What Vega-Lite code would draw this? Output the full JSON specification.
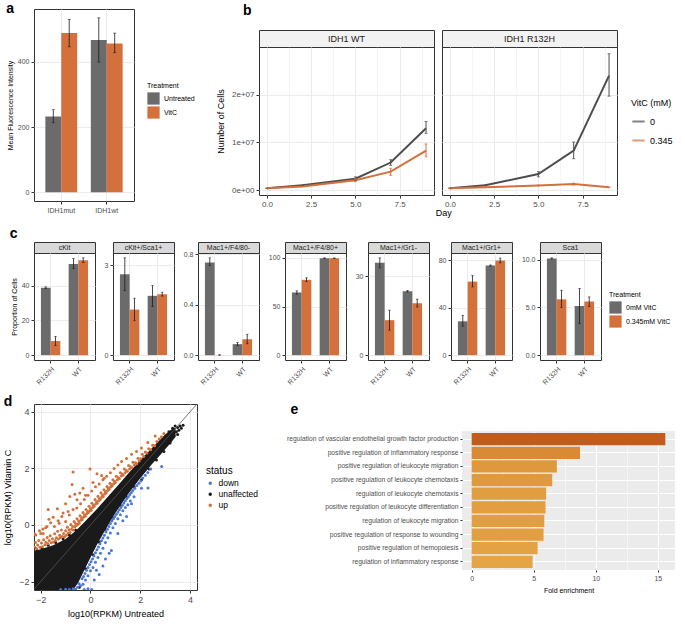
{
"$schema": "https://vega.github.io/schema/vega-lite/v6.json",
"background": "white",
"padding": {"left": 3, "top": 1, "right": 0, "bottom": 0},
"config": {
  "font": "Liberation Sans",
  "view": {"stroke": "#333333", "strokeWidth": 1},
  "axis": {"domain": false, "gridColor": "#ebebeb", "gridWidth": 1, "tickColor": "#333333", "tickSize": 3, "labelColor": "#4d4d4d", "labelFontSize": 7, "titleFontSize": 7, "titleFontWeight": "normal", "titleColor": "#000000", "labelPadding": 2, "titlePadding": 4, "labelFlush": false},
  "legend": {"titleFontWeight": "normal", "titleFontSize": 7, "labelFontSize": 7, "labelColor": "#000000", "titleColor": "#000000"},
  "title": {"fontSize": 14, "fontWeight": "bold", "anchor": "start", "frame": "bounds", "color": "#000000"}
},
"datasets": {
  "c": [
    {"p":"cKit","g":"R132H","t":"0mM VitC","v":38.8,"lo":38.3,"hi":39.3},
    {"p":"cKit","g":"R132H","t":"0.345mM VitC","v":8.1,"lo":5.5,"hi":10.8},
    {"p":"cKit","g":"WT","t":"0mM VitC","v":52.5,"lo":49.8,"hi":55.6},
    {"p":"cKit","g":"WT","t":"0.345mM VitC","v":54.6,"lo":53.3,"hi":56},
    {"p":"cKit+/Sca1+","g":"R132H","t":"0mM VitC","v":2.7,"lo":2.15,"hi":3.25},
    {"p":"cKit+/Sca1+","g":"R132H","t":"0.345mM VitC","v":1.52,"lo":1.15,"hi":1.9},
    {"p":"cKit+/Sca1+","g":"WT","t":"0mM VitC","v":1.98,"lo":1.62,"hi":2.32},
    {"p":"cKit+/Sca1+","g":"WT","t":"0.345mM VitC","v":2.03,"lo":1.97,"hi":2.1},
    {"p":"Mac1+/F4/80-","g":"R132H","t":"0mM VitC","v":0.734,"lo":0.71,"hi":0.77},
    {"p":"Mac1+/F4/80-","g":"R132H","t":"0.345mM VitC","v":0.001,"lo":0,"hi":0.003},
    {"p":"Mac1+/F4/80-","g":"WT","t":"0mM VitC","v":0.087,"lo":0.075,"hi":0.1},
    {"p":"Mac1+/F4/80-","g":"WT","t":"0.345mM VitC","v":0.125,"lo":0.09,"hi":0.165},
    {"p":"Mac1+/F4/80+","g":"R132H","t":"0mM VitC","v":64.5,"lo":62.8,"hi":66.2},
    {"p":"Mac1+/F4/80+","g":"R132H","t":"0.345mM VitC","v":77.5,"lo":75.6,"hi":79.6},
    {"p":"Mac1+/F4/80+","g":"WT","t":"0mM VitC","v":99.8,"lo":99.5,"hi":100.1},
    {"p":"Mac1+/F4/80+","g":"WT","t":"0.345mM VitC","v":99.7,"lo":99.4,"hi":100},
    {"p":"Mac1+/Gr1-","g":"R132H","t":"0mM VitC","v":35.1,"lo":33.2,"hi":37},
    {"p":"Mac1+/Gr1-","g":"R132H","t":"0.345mM VitC","v":13.3,"lo":9.5,"hi":17.1},
    {"p":"Mac1+/Gr1-","g":"WT","t":"0mM VitC","v":24.3,"lo":24,"hi":24.6},
    {"p":"Mac1+/Gr1-","g":"WT","t":"0.345mM VitC","v":19.7,"lo":18.3,"hi":21.3},
    {"p":"Mac1+/Gr1+","g":"R132H","t":"0mM VitC","v":28.5,"lo":24.5,"hi":33.5},
    {"p":"Mac1+/Gr1+","g":"R132H","t":"0.345mM VitC","v":62,"lo":57.5,"hi":67},
    {"p":"Mac1+/Gr1+","g":"WT","t":"0mM VitC","v":75.5,"lo":75,"hi":76},
    {"p":"Mac1+/Gr1+","g":"WT","t":"0.345mM VitC","v":79.7,"lo":77.8,"hi":81.8},
    {"p":"Sca1","g":"R132H","t":"0mM VitC","v":10.14,"lo":10.08,"hi":10.2},
    {"p":"Sca1","g":"R132H","t":"0.345mM VitC","v":5.85,"lo":5.0,"hi":6.8},
    {"p":"Sca1","g":"WT","t":"0mM VitC","v":5.14,"lo":3.3,"hi":7.0},
    {"p":"Sca1","g":"WT","t":"0.345mM VitC","v":5.63,"lo":5.1,"hi":6.1}
  ],
  "bl": [
    {"geno":"IDH1 WT","vitc":"0","day":0,"v":400000,"lo":350000,"hi":450000},
    {"geno":"IDH1 WT","vitc":"0","day":2,"v":1050000,"lo":1000000,"hi":1100000},
    {"geno":"IDH1 WT","vitc":"0","day":5,"v":2400000,"lo":2000000,"hi":2800000},
    {"geno":"IDH1 WT","vitc":"0","day":7,"v":5800000,"lo":5200000,"hi":6400000},
    {"geno":"IDH1 WT","vitc":"0","day":9,"v":13000000,"lo":11900000,"hi":14400000},
    {"geno":"IDH1 WT","vitc":"0.345","day":0,"v":400000,"lo":350000,"hi":450000},
    {"geno":"IDH1 WT","vitc":"0.345","day":2,"v":800000,"lo":750000,"hi":850000},
    {"geno":"IDH1 WT","vitc":"0.345","day":5,"v":2100000,"lo":1800000,"hi":2400000},
    {"geno":"IDH1 WT","vitc":"0.345","day":7,"v":3900000,"lo":3100000,"hi":4600000},
    {"geno":"IDH1 WT","vitc":"0.345","day":9,"v":8300000,"lo":7000000,"hi":9700000},
    {"geno":"IDH1 R132H","vitc":"0","day":0,"v":400000,"lo":350000,"hi":450000},
    {"geno":"IDH1 R132H","vitc":"0","day":2,"v":1050000,"lo":1000000,"hi":1100000},
    {"geno":"IDH1 R132H","vitc":"0","day":5,"v":3400000,"lo":2800000,"hi":3900000},
    {"geno":"IDH1 R132H","vitc":"0","day":7,"v":8300000,"lo":6600000,"hi":10100000},
    {"geno":"IDH1 R132H","vitc":"0","day":9,"v":24000000,"lo":19700000,"hi":28600000},
    {"geno":"IDH1 R132H","vitc":"0.345","day":0,"v":400000,"lo":350000,"hi":450000},
    {"geno":"IDH1 R132H","vitc":"0.345","day":2,"v":600000,"lo":550000,"hi":650000},
    {"geno":"IDH1 R132H","vitc":"0.345","day":5,"v":1000000,"lo":900000,"hi":1100000},
    {"geno":"IDH1 R132H","vitc":"0.345","day":7,"v":1300000,"lo":1100000,"hi":1500000},
    {"geno":"IDH1 R132H","vitc":"0.345","day":9,"v":600000,"lo":550000,"hi":650000}
  ],
  "dband": [
    {"x":-2.28,"lo":-2.3,"hi":-0.92},{"x":-2.0,"lo":-2.3,"hi":-0.86},{"x":-1.5,"lo":-2.3,"hi":-0.72},{"x":-1.0,"lo":-2.3,"hi":-0.5},{"x":-0.7,"lo":-2.3,"hi":-0.28},{"x":-0.5,"lo":-2.05,"hi":-0.12},{"x":-0.25,"lo":-1.6,"hi":0.1},{"x":0,"lo":-1.15,"hi":0.33},{"x":0.25,"lo":-0.72,"hi":0.56},{"x":0.5,"lo":-0.32,"hi":0.8},{"x":0.75,"lo":0.05,"hi":1.05},{"x":1.0,"lo":0.42,"hi":1.3},{"x":1.25,"lo":0.75,"hi":1.55},{"x":1.5,"lo":1.08,"hi":1.8},{"x":1.75,"lo":1.37,"hi":2.05},{"x":2.0,"lo":1.65,"hi":2.3},{"x":2.25,"lo":1.92,"hi":2.52},{"x":2.5,"lo":2.18,"hi":2.75},{"x":2.75,"lo":2.42,"hi":2.98},{"x":3.0,"lo":2.68,"hi":3.2},{"x":3.25,"lo":2.93,"hi":3.38},{"x":3.42,"lo":3.12,"hi":3.45}
  ],
  "dpts": [
    {"x":3.45,"y":3.3,"s":"unaffected"},{"x":3.5,"y":3.45,"s":"unaffected"},{"x":3.55,"y":3.35,"s":"unaffected"},{"x":3.6,"y":3.5,"s":"unaffected"},{"x":3.72,"y":3.53,"s":"unaffected"},{"x":3.4,"y":3.5,"s":"unaffected"},{"x":3.3,"y":3.42,"s":"unaffected"},{"x":3.35,"y":3.15,"s":"unaffected"},{"x":3.5,"y":3.2,"s":"unaffected"},{"x":3.25,"y":3.05,"s":"unaffected"},{"x":3.65,"y":3.42,"s":"unaffected"},{"x":3.15,"y":3.3,"s":"unaffected"},
    {"x":-2.25,"y":-0.8,"s":"unaffected"},{"x":-2.15,"y":-0.9,"s":"unaffected"},{"x":-1.95,"y":-0.82,"s":"unaffected"},{"x":-1.7,"y":-0.72,"s":"unaffected"},{"x":-1.4,"y":-0.62,"s":"unaffected"},{"x":-1.1,"y":-0.5,"s":"unaffected"},{"x":-0.85,"y":-0.35,"s":"unaffected"},{"x":-0.6,"y":-0.18,"s":"unaffected"},
    {"x":-0.6,"y":-2.28,"s":"unaffected"},{"x":-0.45,"y":-2.2,"s":"unaffected"},{"x":-0.2,"y":-1.55,"s":"unaffected"},{"x":0.1,"y":-1.05,"s":"unaffected"},{"x":0.35,"y":-0.6,"s":"unaffected"},{"x":0.6,"y":-0.15,"s":"unaffected"},{"x":0.9,"y":0.25,"s":"unaffected"},{"x":1.2,"y":0.7,"s":"unaffected"},{"x":1.45,"y":1.0,"s":"unaffected"},{"x":1.75,"y":1.35,"s":"unaffected"},{"x":2.05,"y":1.6,"s":"unaffected"},{"x":2.35,"y":1.98,"s":"unaffected"},{"x":2.65,"y":2.3,"s":"unaffected"},{"x":2.95,"y":2.6,"s":"unaffected"},{"x":3.2,"y":2.9,"s":"unaffected"},
    {"x":-0.6,"y":-2.27,"s":"down"},{"x":-0.52,"y":-2.2,"s":"down"},{"x":-0.46,"y":-2.08,"s":"down"},{"x":-0.4,"y":-2.15,"s":"down"},{"x":-0.34,"y":-1.9,"s":"down"},{"x":-0.28,"y":-1.82,"s":"down"},{"x":-0.22,"y":-1.72,"s":"down"},{"x":-0.16,"y":-1.6,"s":"down"},{"x":-0.1,"y":-1.5,"s":"down"},{"x":-0.04,"y":-1.4,"s":"down"},{"x":0.02,"y":-1.3,"s":"down"},{"x":0.08,"y":-1.2,"s":"down"},{"x":0.14,"y":-1.1,"s":"down"},{"x":0.2,"y":-0.98,"s":"down"},{"x":0.26,"y":-0.88,"s":"down"},{"x":0.32,"y":-0.78,"s":"down"},{"x":0.38,"y":-0.66,"s":"down"},{"x":0.44,"y":-0.56,"s":"down"},{"x":0.5,"y":-0.46,"s":"down"},{"x":0.56,"y":-0.36,"s":"down"},{"x":0.62,"y":-0.25,"s":"down"},{"x":0.68,"y":-0.15,"s":"down"},{"x":0.74,"y":-0.05,"s":"down"},{"x":0.8,"y":0.05,"s":"down"},{"x":0.86,"y":0.14,"s":"down"},{"x":0.92,"y":0.22,"s":"down"},{"x":0.98,"y":0.3,"s":"down"},{"x":1.04,"y":0.38,"s":"down"},{"x":1.1,"y":0.46,"s":"down"},{"x":1.16,"y":0.54,"s":"down"},{"x":1.22,"y":0.62,"s":"down"},{"x":1.28,"y":0.7,"s":"down"},{"x":1.34,"y":0.78,"s":"down"},{"x":1.4,"y":0.86,"s":"down"},{"x":1.46,"y":0.94,"s":"down"},{"x":1.52,"y":1.0,"s":"down"},{"x":1.58,"y":1.08,"s":"down"},{"x":1.64,"y":1.15,"s":"down"},{"x":1.7,"y":1.22,"s":"down"},{"x":1.78,"y":1.3,"s":"down"},{"x":1.86,"y":1.4,"s":"down"},{"x":1.94,"y":1.48,"s":"down"},{"x":2.02,"y":1.56,"s":"down"},{"x":2.1,"y":1.66,"s":"down"},{"x":2.2,"y":1.76,"s":"down"},{"x":2.3,"y":1.86,"s":"down"},{"x":2.42,"y":1.98,"s":"down"},
    {"x":-0.3,"y":-2.1,"s":"down"},{"x":-0.2,"y":-1.95,"s":"down"},{"x":-0.1,"y":-1.8,"s":"down"},{"x":0.0,"y":-1.62,"s":"down"},{"x":0.1,"y":-1.5,"s":"down"},{"x":0.2,"y":-1.32,"s":"down"},{"x":0.3,"y":-1.15,"s":"down"},{"x":0.4,"y":-1.0,"s":"down"},{"x":0.5,"y":-0.82,"s":"down"},{"x":0.6,"y":-0.62,"s":"down"},{"x":0.7,"y":-0.45,"s":"down"},{"x":0.8,"y":-0.28,"s":"down"},{"x":0.9,"y":-0.1,"s":"down"},{"x":1.0,"y":0.05,"s":"down"},{"x":1.1,"y":0.22,"s":"down"},{"x":1.2,"y":0.36,"s":"down"},{"x":1.3,"y":0.5,"s":"down"},{"x":1.4,"y":0.62,"s":"down"},{"x":1.5,"y":0.72,"s":"down"},{"x":1.6,"y":0.85,"s":"down"},{"x":1.75,"y":1.0,"s":"down"},
    {"x":-1.2,"y":-2.28,"s":"down"},{"x":-1.0,"y":-2.27,"s":"down"},{"x":-0.85,"y":-2.28,"s":"down"},{"x":-0.7,"y":-2.26,"s":"down"},{"x":-0.25,"y":-2.28,"s":"down"},{"x":-0.1,"y":-2.26,"s":"down"},{"x":0.05,"y":-2.28,"s":"down"},
    {"x":2.31,"y":1.31,"s":"down"},{"x":2.86,"y":2.07,"s":"down"},{"x":0.24,"y":-1.6,"s":"down"},{"x":0.35,"y":-1.75,"s":"down"},{"x":0.6,"y":-1.2,"s":"down"},{"x":0.84,"y":-0.9,"s":"down"},{"x":1.1,"y":-0.3,"s":"down"},{"x":0.5,"y":-1.45,"s":"down"},{"x":1.3,"y":0.15,"s":"down"},{"x":1.65,"y":0.75,"s":"down"},{"x":2.05,"y":1.3,"s":"down"},{"x":0.15,"y":-1.95,"s":"down"},{"x":0.75,"y":-1.0,"s":"down"},{"x":1.45,"y":0.3,"s":"down"},
    {"x":-2.26,"y":-0.78,"s":"up"},{"x":-2.21,"y":-0.62,"s":"up"},{"x":-2.17,"y":-0.83,"s":"up"},{"x":-2.12,"y":-0.71,"s":"up"},{"x":-2.08,"y":-0.55,"s":"up"},{"x":-2.03,"y":-0.79,"s":"up"},{"x":-1.97,"y":-0.64,"s":"up"},{"x":-1.93,"y":-0.77,"s":"up"},{"x":-1.88,"y":-0.52,"s":"up"},{"x":-1.83,"y":-0.7,"s":"up"},{"x":-1.79,"y":-0.61,"s":"up"},{"x":-1.74,"y":-0.44,"s":"up"},{"x":-1.71,"y":-0.66,"s":"up"},{"x":-1.66,"y":-0.55,"s":"up"},{"x":-1.62,"y":-0.38,"s":"up"},{"x":-1.58,"y":-0.63,"s":"up"},{"x":-1.53,"y":-0.49,"s":"up"},{"x":-1.49,"y":-0.6,"s":"up"},{"x":-1.44,"y":-0.31,"s":"up"},{"x":-1.41,"y":-0.55,"s":"up"},{"x":-1.37,"y":-0.45,"s":"up"},{"x":-1.32,"y":-0.22,"s":"up"},{"x":-1.29,"y":-0.5,"s":"up"},{"x":-1.24,"y":-0.36,"s":"up"},{"x":-1.21,"y":-0.44,"s":"up"},{"x":-1.17,"y":-0.18,"s":"up"},{"x":-1.13,"y":-0.41,"s":"up"},{"x":-1.08,"y":-0.3,"s":"up"},{"x":-1.04,"y":-0.42,"s":"up"},{"x":-1.0,"y":-0.2,"s":"up"},{"x":-0.97,"y":-0.36,"s":"up"},{"x":-0.93,"y":-0.08,"s":"up"},{"x":-0.9,"y":-0.28,"s":"up"},{"x":-0.86,"y":-0.17,"s":"up"},{"x":-0.82,"y":-0.27,"s":"up"},{"x":-0.79,"y":0.02,"s":"up"},{"x":-0.76,"y":-0.15,"s":"up"},{"x":-0.72,"y":-0.05,"s":"up"},{"x":-0.69,"y":-0.18,"s":"up"},{"x":-0.66,"y":0.12,"s":"up"},{"x":-0.63,"y":-0.06,"s":"up"},{"x":-0.6,"y":0.05,"s":"up"},{"x":-0.57,"y":-0.02,"s":"up"},{"x":-0.54,"y":0.22,"s":"up"},{"x":-0.51,"y":0.03,"s":"up"},{"x":-0.48,"y":0.14,"s":"up"},{"x":-0.45,"y":0.06,"s":"up"},{"x":-0.42,"y":0.33,"s":"up"},{"x":-0.39,"y":0.17,"s":"up"},{"x":-0.36,"y":0.26,"s":"up"},{"x":-0.33,"y":0.19,"s":"up"},{"x":-0.3,"y":0.44,"s":"up"},{"x":-0.27,"y":0.28,"s":"up"},{"x":-0.24,"y":0.36,"s":"up"},{"x":-0.21,"y":0.31,"s":"up"},{"x":-0.18,"y":0.55,"s":"up"},{"x":-0.15,"y":0.4,"s":"up"},{"x":-0.12,"y":0.48,"s":"up"},{"x":-0.09,"y":0.43,"s":"up"},{"x":-0.06,"y":0.66,"s":"up"},{"x":-0.03,"y":0.5,"s":"up"},{"x":0.0,"y":0.58,"s":"up"},{"x":0.03,"y":0.52,"s":"up"},{"x":0.06,"y":0.77,"s":"up"},{"x":0.09,"y":0.62,"s":"up"},{"x":0.12,"y":0.7,"s":"up"},{"x":0.15,"y":0.66,"s":"up"},{"x":0.18,"y":0.9,"s":"up"},{"x":0.21,"y":0.74,"s":"up"},{"x":0.24,"y":0.82,"s":"up"},{"x":0.27,"y":0.77,"s":"up"},{"x":0.3,"y":1.02,"s":"up"},{"x":0.33,"y":0.86,"s":"up"},{"x":0.36,"y":0.94,"s":"up"},{"x":0.39,"y":0.9,"s":"up"},{"x":0.42,"y":1.14,"s":"up"},{"x":0.45,"y":0.98,"s":"up"},{"x":0.48,"y":1.06,"s":"up"},{"x":0.51,"y":1.01,"s":"up"},{"x":0.54,"y":1.25,"s":"up"},{"x":0.57,"y":1.1,"s":"up"},{"x":0.6,"y":1.18,"s":"up"},{"x":0.63,"y":1.13,"s":"up"},{"x":0.66,"y":1.36,"s":"up"},{"x":0.69,"y":1.22,"s":"up"},{"x":0.72,"y":1.3,"s":"up"},{"x":0.75,"y":1.26,"s":"up"},{"x":0.78,"y":1.48,"s":"up"},{"x":0.81,"y":1.34,"s":"up"},{"x":0.84,"y":1.42,"s":"up"},{"x":0.87,"y":1.38,"s":"up"},{"x":0.9,"y":1.6,"s":"up"},{"x":0.93,"y":1.46,"s":"up"},{"x":0.97,"y":1.55,"s":"up"},{"x":1.0,"y":1.5,"s":"up"},{"x":1.04,"y":1.72,"s":"up"},{"x":1.08,"y":1.6,"s":"up"},{"x":1.12,"y":1.67,"s":"up"},{"x":1.16,"y":1.64,"s":"up"},{"x":1.2,"y":1.85,"s":"up"},{"x":1.24,"y":1.73,"s":"up"},{"x":1.28,"y":1.8,"s":"up"},{"x":1.32,"y":1.77,"s":"up"},{"x":1.36,"y":1.98,"s":"up"},{"x":1.4,"y":1.86,"s":"up"},{"x":1.44,"y":1.93,"s":"up"},{"x":1.48,"y":1.9,"s":"up"},{"x":1.53,"y":2.1,"s":"up"},{"x":1.57,"y":1.98,"s":"up"},{"x":1.62,"y":2.06,"s":"up"},{"x":1.66,"y":2.03,"s":"up"},{"x":1.71,"y":2.22,"s":"up"},{"x":1.76,"y":2.12,"s":"up"},{"x":1.81,"y":2.2,"s":"up"},{"x":1.86,"y":2.17,"s":"up"},{"x":1.91,"y":2.36,"s":"up"},{"x":1.96,"y":2.26,"s":"up"},{"x":2.02,"y":2.34,"s":"up"},{"x":2.08,"y":2.5,"s":"up"},{"x":2.14,"y":2.42,"s":"up"},{"x":2.2,"y":2.58,"s":"up"},{"x":2.27,"y":2.55,"s":"up"},{"x":2.34,"y":2.7,"s":"up"},{"x":2.42,"y":2.66,"s":"up"},{"x":2.5,"y":2.82,"s":"up"},{"x":2.58,"y":2.8,"s":"up"},{"x":2.67,"y":2.95,"s":"up"},{"x":2.76,"y":3.04,"s":"up"},{"x":2.85,"y":3.12,"s":"up"},{"x":2.95,"y":3.24,"s":"up"},
    {"x":-2.2,"y":-0.35,"s":"up"},{"x":-2.05,"y":-0.2,"s":"up"},{"x":-1.9,"y":-0.3,"s":"up"},{"x":-1.75,"y":-0.05,"s":"up"},{"x":-1.6,"y":0.08,"s":"up"},{"x":-1.45,"y":-0.05,"s":"up"},{"x":-1.3,"y":0.15,"s":"up"},{"x":-1.15,"y":0.3,"s":"up"},{"x":-1.0,"y":0.12,"s":"up"},{"x":-0.85,"y":0.35,"s":"up"},{"x":-0.7,"y":0.55,"s":"up"},{"x":-0.55,"y":0.6,"s":"up"},{"x":-0.4,"y":0.75,"s":"up"},{"x":-0.25,"y":0.9,"s":"up"},{"x":-0.1,"y":1.05,"s":"up"},{"x":0.05,"y":1.2,"s":"up"},{"x":0.2,"y":1.35,"s":"up"},{"x":0.35,"y":1.45,"s":"up"},{"x":0.5,"y":1.6,"s":"up"},{"x":0.65,"y":1.72,"s":"up"},{"x":0.8,"y":1.85,"s":"up"},{"x":0.95,"y":2.0,"s":"up"},{"x":1.1,"y":2.12,"s":"up"},{"x":1.25,"y":2.25,"s":"up"},{"x":1.45,"y":2.35,"s":"up"},{"x":1.65,"y":2.5,"s":"up"},{"x":1.85,"y":2.6,"s":"up"},{"x":2.05,"y":2.72,"s":"up"},{"x":2.3,"y":2.92,"s":"up"},{"x":2.6,"y":3.15,"s":"up"},
    {"x":-0.7,"y":1.87,"s":"up"},{"x":-0.02,"y":1.98,"s":"up"},{"x":0.26,"y":1.81,"s":"up"},{"x":-0.74,"y":1.43,"s":"up"},{"x":-0.63,"y":1.09,"s":"up"},{"x":-0.43,"y":1.13,"s":"up"},{"x":-0.83,"y":1.01,"s":"up"},{"x":-0.54,"y":0.89,"s":"up"},{"x":-1.33,"y":0.57,"s":"up"},{"x":-1.67,"y":0.2,"s":"up"},{"x":-1.5,"y":0.27,"s":"up"},{"x":-1.1,"y":0.42,"s":"up"},{"x":-0.9,"y":0.48,"s":"up"},{"x":-1.26,"y":0.06,"s":"up"},{"x":-1.91,"y":-0.14,"s":"up"},{"x":-2.24,"y":-0.32,"s":"up"},{"x":-1.7,"y":0.55,"s":"up"},{"x":-0.3,"y":1.3,"s":"up"},{"x":0.1,"y":1.5,"s":"up"},{"x":0.45,"y":1.75,"s":"up"},{"x":-1.0,"y":0.75,"s":"up"},{"x":-0.2,"y":1.05,"s":"up"},{"x":0.55,"y":1.65,"s":"up"},{"x":-2.0,"y":-0.3,"s":"up"},{"x":-1.8,"y":-0.1,"s":"up"}
  ]
},
"resolve": {"scale": {"color": "independent", "xOffset": "independent", "x": "independent", "y": "independent"}},
"spacing": 8,
"vconcat": [
  {
    "spacing": 20,
    "resolve": {"scale": {"color": "independent", "xOffset": "independent", "x": "independent", "y": "independent"}},
    "hconcat": [
      {
        "title": {"text": "a", "offset": -7},
        "width": 100, "height": 192,
        "data": {"values": [
          {"g":"IDH1mut","t":"Untreated","v":232,"lo":213,"hi":253},
          {"g":"IDH1mut","t":"VitC","v":488,"lo":446,"hi":530},
          {"g":"IDH1wt","t":"Untreated","v":467,"lo":399,"hi":535},
          {"g":"IDH1wt","t":"VitC","v":456,"lo":428,"hi":488}
        ]},
        "encoding": {
          "x": {"field": "g", "type": "nominal", "scale": {"paddingInner": 0.3, "paddingOuter": 0.25}, "axis": {"title": null, "labelAngle": 0, "grid": true}},
          "xOffset": {"field": "t", "type": "nominal", "scale": {"domain": ["Untreated", "VitC"]}}
        },
        "layer": [
          {"mark": {"type": "bar"}, "encoding": {
            "y": {"field": "v", "type": "quantitative", "scale": {"domain": [-27, 562], "nice": false}, "axis": {"title": "Mean Fluorescence Intensity", "values": [0,100,200,300,400,500], "labelExpr": "datum.value % 200 == 0 ? datum.label : ''", "tickOpacity": {"condition": {"test": "datum.value % 200 != 0", "value": 0}, "value": 1}, "gridWidth": {"condition": {"test": "datum.value % 200 != 0", "value": 0.5}, "value": 1}}},
            "color": {"field": "t", "type": "nominal", "scale": {"domain": ["Untreated", "VitC"], "range": ["#6b6b6b", "#d4703c"]}, "legend": {"orient": "none", "legendX": 113, "legendY": 73, "title": "Treatment", "symbolType": "square", "symbolSize": 150, "symbolStrokeWidth": 0, "rowPadding": 1, "titlePadding": 3}}
          }},
          {"mark": {"type": "rule", "color": "#1a1a1a", "strokeWidth": 0.8}, "encoding": {"y": {"field": "lo", "type": "quantitative"}, "y2": {"field": "hi"}}},
          {"mark": {"type": "tick", "orient": "horizontal", "size": 3, "thickness": 0.8, "color": "#1a1a1a"}, "encoding": {"y": {"field": "lo", "type": "quantitative"}}},
          {"mark": {"type": "tick", "orient": "horizontal", "size": 3, "thickness": 0.8, "color": "#1a1a1a"}, "encoding": {"y": {"field": "hi", "type": "quantitative"}}}
        ]
      },
      {
        "title": {"text": "b", "offset": -9, "dx": 27},
        "spacing": 0,
        "resolve": {"scale": {"color": "independent", "xOffset": "independent", "x": "independent", "y": "independent"}},
        "vconcat": [
          {"width": 175, "height": 20, "data": {"values": []}, "mark": {"type": "text"}, "encoding": {}, "view": {"stroke": null, "fill": null}},
          {
            "title": {"text": "Day", "orient": "bottom", "anchor": "middle", "frame": "bounds", "fontSize": 9, "fontWeight": "normal", "offset": 0, "dx": -1},
            "spacing": 6,
            "resolve": {"scale": {"color": "independent", "xOffset": "independent", "x": "independent", "y": "independent"}},
            "hconcat": [
              {
                "spacing": 0, "bounds": "flush",
                "resolve": {"scale": {"color": "independent", "xOffset": "independent", "x": "independent", "y": "independent"}},
                "vconcat": [
                  {"width": 175, "height": 17, "data": {"values": [{"lab": "IDH1 WT"}]}, "mark": {"type": "text", "fontSize": 9, "color": "#1a1a1a"}, "encoding": {"text": {"field": "lab", "type": "nominal"}}, "view": {"fill": "#f2f2f2", "stroke": "#333333"}},
                  {
                    "width": 175, "height": 148,
                    "data": {"name": "bl"},
                    "transform": [{"filter": {"field": "geno", "equal": "IDH1 WT"}}],
                    "encoding": {
                      "x": {"field": "day", "type": "quantitative", "scale": {"domain": [-0.45, 9.45], "nice": false}, "axis": {"title": null, "labelFontSize": 8, "values": [0,1.25,2.5,3.75,5,6.25,7.5,8.75], "labelExpr": "datum.value % 2.5 == 0 ? format(datum.value, '.1f') : ''", "tickOpacity": {"condition": {"test": "datum.value % 2.5 != 0", "value": 0}, "value": 1}, "gridWidth": {"condition": {"test": "datum.value % 2.5 != 0", "value": 0.5}, "value": 1}}},
                      "color": {"field": "vitc", "type": "nominal", "scale": {"domain": ["0", "0.345"], "range": ["#4d4d4d", "#d4703c"]}, "legend": null}
                    },
                    "layer": [
                      {"mark": {"type": "line", "strokeWidth": 2}, "encoding": {"y": {"field": "v", "type": "quantitative", "scale": {"domain": [-1000000, 30000000], "nice": false}, "axis": {"title": "Number of Cells", "titleFontSize": 9, "titlePadding": 6, "labelFontSize": 8, "values": [0,5000000,10000000,15000000,20000000,25000000], "labelExpr": "datum.value == 0 ? '0e+00' : (datum.value % 10000000 == 0 ? format(datum.value / 10000000, 'd') + 'e+07' : '')", "tickOpacity": {"condition": {"test": "datum.value % 10000000 != 0", "value": 0}, "value": 1}, "gridWidth": {"condition": {"test": "datum.value % 10000000 != 0", "value": 0.5}, "value": 1}}}}},
                      {"mark": {"type": "rule", "strokeWidth": 1}, "encoding": {"y": {"field": "lo", "type": "quantitative"}, "y2": {"field": "hi"}}},
                      {"mark": {"type": "tick", "orient": "horizontal", "size": 3, "thickness": 1}, "encoding": {"y": {"field": "lo", "type": "quantitative"}}},
                      {"mark": {"type": "tick", "orient": "horizontal", "size": 3, "thickness": 1}, "encoding": {"y": {"field": "hi", "type": "quantitative"}}}
                    ]
                  }
                ]
              },
              {
                "spacing": 0, "bounds": "flush",
                "resolve": {"scale": {"color": "independent", "xOffset": "independent", "x": "independent", "y": "independent"}},
                "vconcat": [
                  {"width": 175, "height": 17, "data": {"values": [{"lab": "IDH1 R132H"}]}, "mark": {"type": "text", "fontSize": 9, "color": "#1a1a1a"}, "encoding": {"text": {"field": "lab", "type": "nominal"}}, "view": {"fill": "#f2f2f2", "stroke": "#333333"}},
                  {
                    "width": 175, "height": 148,
                    "data": {"name": "bl"},
                    "transform": [{"filter": {"field": "geno", "equal": "IDH1 R132H"}}],
                    "encoding": {
                      "x": {"field": "day", "type": "quantitative", "scale": {"domain": [-0.45, 9.45], "nice": false}, "axis": {"title": null, "labelFontSize": 8, "values": [0,1.25,2.5,3.75,5,6.25,7.5,8.75], "labelExpr": "datum.value % 2.5 == 0 ? format(datum.value, '.1f') : ''", "tickOpacity": {"condition": {"test": "datum.value % 2.5 != 0", "value": 0}, "value": 1}, "gridWidth": {"condition": {"test": "datum.value % 2.5 != 0", "value": 0.5}, "value": 1}}},
                      "color": {"field": "vitc", "type": "nominal", "scale": {"domain": ["0", "0.345"], "range": ["#4d4d4d", "#d4703c"]}, "legend": {"orient": "none", "legendX": 189, "legendY": 52, "title": "VitC (mM)", "titleFontSize": 9, "labelFontSize": 9, "symbolType": "stroke", "symbolStrokeWidth": 2, "symbolSize": 150, "rowPadding": 6, "titlePadding": 6}}
                    },
                    "layer": [
                      {"mark": {"type": "line", "strokeWidth": 2}, "encoding": {"y": {"field": "v", "type": "quantitative", "scale": {"domain": [-1000000, 30000000], "nice": false}, "axis": {"title": null, "labels": false, "ticks": false, "values": [0,5000000,10000000,15000000,20000000,25000000], "gridWidth": {"condition": {"test": "datum.value % 10000000 != 0", "value": 0.5}, "value": 1}}}}},
                      {"mark": {"type": "rule", "strokeWidth": 1}, "encoding": {"y": {"field": "lo", "type": "quantitative"}, "y2": {"field": "hi"}}},
                      {"mark": {"type": "tick", "orient": "horizontal", "size": 3, "thickness": 1}, "encoding": {"y": {"field": "lo", "type": "quantitative"}}},
                      {"mark": {"type": "tick", "orient": "horizontal", "size": 3, "thickness": 1}, "encoding": {"y": {"field": "hi", "type": "quantitative"}}}
                    ]
                  }
                ]
              }
            ]
          }
        ]
      }
    ]
  },
  {
    "title": {"text": "c", "offset": 1},
    "spacing": 7,
    "resolve": {"scale": {"color": "independent", "xOffset": "independent", "x": "independent", "y": "independent"}},
    "hconcat": [
      {"spacing": 0, "bounds": "flush", "resolve": {"scale": {"color": "independent", "xOffset": "independent", "x": "independent", "y": "independent"}},
       "vconcat": [
        {"width": 61, "height": 11, "data": {"values": [{"lab": "cKit"}]}, "mark": {"type": "text", "fontSize": 7, "color": "#1a1a1a"}, "encoding": {"text": {"field": "lab", "type": "nominal"}}, "view": {"fill": "#d9d9d9", "stroke": "#333333"}},
        {"width": 61, "height": 107, "data": {"name": "c"}, "transform": [{"filter": {"field": "p", "equal": "cKit"}}],
         "encoding": {"x": {"field": "g", "type": "nominal", "scale": {"paddingInner": 0.3, "paddingOuter": 0.25}, "axis": {"title": null, "labelAngle": -45, "grid": true}}, "xOffset": {"field": "t", "type": "nominal", "scale": {"domain": ["0mM VitC", "0.345mM VitC"]}}},
         "layer": [
          {"mark": "bar", "encoding": {"y": {"field": "v", "type": "quantitative", "scale": {"domain": [-2.8, 58.8], "nice": false}, "axis": {"title": "Proportion of Cells", "values": [0, 20, 40]}}, "color": {"field": "t", "type": "nominal", "scale": {"domain": ["0mM VitC", "0.345mM VitC"], "range": ["#6b6b6b", "#d4703c"]}, "legend": null}}},
          {"mark": {"type": "rule", "color": "#1a1a1a", "strokeWidth": 0.8}, "encoding": {"y": {"field": "lo", "type": "quantitative"}, "y2": {"field": "hi"}}},
          {"mark": {"type": "tick", "orient": "horizontal", "size": 2.5, "thickness": 0.8, "color": "#1a1a1a"}, "encoding": {"y": {"field": "lo", "type": "quantitative"}}},
          {"mark": {"type": "tick", "orient": "horizontal", "size": 2.5, "thickness": 0.8, "color": "#1a1a1a"}, "encoding": {"y": {"field": "hi", "type": "quantitative"}}}
         ]}
      ]},
      {"spacing": 0, "bounds": "flush", "resolve": {"scale": {"color": "independent", "xOffset": "independent", "x": "independent", "y": "independent"}},
       "vconcat": [
        {"width": 61, "height": 11, "data": {"values": [{"lab": "cKit+/Sca1+"}]}, "mark": {"type": "text", "fontSize": 7, "color": "#1a1a1a"}, "encoding": {"text": {"field": "lab", "type": "nominal"}}, "view": {"fill": "#d9d9d9", "stroke": "#333333"}},
        {"width": 61, "height": 107, "data": {"name": "c"}, "transform": [{"filter": {"field": "p", "equal": "cKit+/Sca1+"}}],
         "encoding": {"x": {"field": "g", "type": "nominal", "scale": {"paddingInner": 0.3, "paddingOuter": 0.25}, "axis": {"title": null, "labelAngle": -45, "grid": true}}, "xOffset": {"field": "t", "type": "nominal", "scale": {"domain": ["0mM VitC", "0.345mM VitC"]}}},
         "layer": [
          {"mark": "bar", "encoding": {"y": {"field": "v", "type": "quantitative", "scale": {"domain": [-0.163, 3.41], "nice": false}, "axis": {"title": null, "values": [0, 1, 2, 3]}}, "color": {"field": "t", "type": "nominal", "scale": {"domain": ["0mM VitC", "0.345mM VitC"], "range": ["#6b6b6b", "#d4703c"]}, "legend": null}}},
          {"mark": {"type": "rule", "color": "#1a1a1a", "strokeWidth": 0.8}, "encoding": {"y": {"field": "lo", "type": "quantitative"}, "y2": {"field": "hi"}}},
          {"mark": {"type": "tick", "orient": "horizontal", "size": 2.5, "thickness": 0.8, "color": "#1a1a1a"}, "encoding": {"y": {"field": "lo", "type": "quantitative"}}},
          {"mark": {"type": "tick", "orient": "horizontal", "size": 2.5, "thickness": 0.8, "color": "#1a1a1a"}, "encoding": {"y": {"field": "hi", "type": "quantitative"}}}
         ]}
      ]},
      {"spacing": 0, "bounds": "flush", "resolve": {"scale": {"color": "independent", "xOffset": "independent", "x": "independent", "y": "independent"}},
       "vconcat": [
        {"width": 61, "height": 11, "data": {"values": [{"lab": "Mac1+/F4/80-"}]}, "mark": {"type": "text", "fontSize": 7, "color": "#1a1a1a"}, "encoding": {"text": {"field": "lab", "type": "nominal"}}, "view": {"fill": "#d9d9d9", "stroke": "#333333"}},
        {"width": 61, "height": 107, "data": {"name": "c"}, "transform": [{"filter": {"field": "p", "equal": "Mac1+/F4/80-"}}],
         "encoding": {"x": {"field": "g", "type": "nominal", "scale": {"paddingInner": 0.3, "paddingOuter": 0.25}, "axis": {"title": null, "labelAngle": -45, "grid": true}}, "xOffset": {"field": "t", "type": "nominal", "scale": {"domain": ["0mM VitC", "0.345mM VitC"]}}},
         "layer": [
          {"mark": "bar", "encoding": {"y": {"field": "v", "type": "quantitative", "scale": {"domain": [-0.0385, 0.8085], "nice": false}, "axis": {"title": null, "values": [0, 0.2, 0.4, 0.6, 0.8], "format": ".1f"}}, "color": {"field": "t", "type": "nominal", "scale": {"domain": ["0mM VitC", "0.345mM VitC"], "range": ["#6b6b6b", "#d4703c"]}, "legend": null}}},
          {"mark": {"type": "rule", "color": "#1a1a1a", "strokeWidth": 0.8}, "encoding": {"y": {"field": "lo", "type": "quantitative"}, "y2": {"field": "hi"}}},
          {"mark": {"type": "tick", "orient": "horizontal", "size": 2.5, "thickness": 0.8, "color": "#1a1a1a"}, "encoding": {"y": {"field": "lo", "type": "quantitative"}}},
          {"mark": {"type": "tick", "orient": "horizontal", "size": 2.5, "thickness": 0.8, "color": "#1a1a1a"}, "encoding": {"y": {"field": "hi", "type": "quantitative"}}}
         ]}
      ]},
      {"spacing": 0, "bounds": "flush", "resolve": {"scale": {"color": "independent", "xOffset": "independent", "x": "independent", "y": "independent"}},
       "vconcat": [
        {"width": 61, "height": 11, "data": {"values": [{"lab": "Mac1+/F4/80+"}]}, "mark": {"type": "text", "fontSize": 7, "color": "#1a1a1a"}, "encoding": {"text": {"field": "lab", "type": "nominal"}}, "view": {"fill": "#d9d9d9", "stroke": "#333333"}},
        {"width": 61, "height": 107, "data": {"name": "c"}, "transform": [{"filter": {"field": "p", "equal": "Mac1+/F4/80+"}}],
         "encoding": {"x": {"field": "g", "type": "nominal", "scale": {"paddingInner": 0.3, "paddingOuter": 0.25}, "axis": {"title": null, "labelAngle": -45, "grid": true}}, "xOffset": {"field": "t", "type": "nominal", "scale": {"domain": ["0mM VitC", "0.345mM VitC"]}}},
         "layer": [
          {"mark": "bar", "encoding": {"y": {"field": "v", "type": "quantitative", "scale": {"domain": [-5, 105.1], "nice": false}, "axis": {"title": null, "values": [0, 25, 50, 75, 100]}}, "color": {"field": "t", "type": "nominal", "scale": {"domain": ["0mM VitC", "0.345mM VitC"], "range": ["#6b6b6b", "#d4703c"]}, "legend": null}}},
          {"mark": {"type": "rule", "color": "#1a1a1a", "strokeWidth": 0.8}, "encoding": {"y": {"field": "lo", "type": "quantitative"}, "y2": {"field": "hi"}}},
          {"mark": {"type": "tick", "orient": "horizontal", "size": 2.5, "thickness": 0.8, "color": "#1a1a1a"}, "encoding": {"y": {"field": "lo", "type": "quantitative"}}},
          {"mark": {"type": "tick", "orient": "horizontal", "size": 2.5, "thickness": 0.8, "color": "#1a1a1a"}, "encoding": {"y": {"field": "hi", "type": "quantitative"}}}
         ]}
      ]},
      {"spacing": 0, "bounds": "flush", "resolve": {"scale": {"color": "independent", "xOffset": "independent", "x": "independent", "y": "independent"}},
       "vconcat": [
        {"width": 61, "height": 11, "data": {"values": [{"lab": "Mac1+/Gr1-"}]}, "mark": {"type": "text", "fontSize": 7, "color": "#1a1a1a"}, "encoding": {"text": {"field": "lab", "type": "nominal"}}, "view": {"fill": "#d9d9d9", "stroke": "#333333"}},
        {"width": 61, "height": 107, "data": {"name": "c"}, "transform": [{"filter": {"field": "p", "equal": "Mac1+/Gr1-"}}],
         "encoding": {"x": {"field": "g", "type": "nominal", "scale": {"paddingInner": 0.3, "paddingOuter": 0.25}, "axis": {"title": null, "labelAngle": -45, "grid": true}}, "xOffset": {"field": "t", "type": "nominal", "scale": {"domain": ["0mM VitC", "0.345mM VitC"]}}},
         "layer": [
          {"mark": "bar", "encoding": {"y": {"field": "v", "type": "quantitative", "scale": {"domain": [-1.85, 38.85], "nice": false}, "axis": {"title": null, "values": [0, 10, 20, 30]}}, "color": {"field": "t", "type": "nominal", "scale": {"domain": ["0mM VitC", "0.345mM VitC"], "range": ["#6b6b6b", "#d4703c"]}, "legend": null}}},
          {"mark": {"type": "rule", "color": "#1a1a1a", "strokeWidth": 0.8}, "encoding": {"y": {"field": "lo", "type": "quantitative"}, "y2": {"field": "hi"}}},
          {"mark": {"type": "tick", "orient": "horizontal", "size": 2.5, "thickness": 0.8, "color": "#1a1a1a"}, "encoding": {"y": {"field": "lo", "type": "quantitative"}}},
          {"mark": {"type": "tick", "orient": "horizontal", "size": 2.5, "thickness": 0.8, "color": "#1a1a1a"}, "encoding": {"y": {"field": "hi", "type": "quantitative"}}}
         ]}
      ]},
      {"spacing": 0, "bounds": "flush", "resolve": {"scale": {"color": "independent", "xOffset": "independent", "x": "independent", "y": "independent"}},
       "vconcat": [
        {"width": 61, "height": 11, "data": {"values": [{"lab": "Mac1+/Gr1+"}]}, "mark": {"type": "text", "fontSize": 7, "color": "#1a1a1a"}, "encoding": {"text": {"field": "lab", "type": "nominal"}}, "view": {"fill": "#d9d9d9", "stroke": "#333333"}},
        {"width": 61, "height": 107, "data": {"name": "c"}, "transform": [{"filter": {"field": "p", "equal": "Mac1+/Gr1+"}}],
         "encoding": {"x": {"field": "g", "type": "nominal", "scale": {"paddingInner": 0.3, "paddingOuter": 0.25}, "axis": {"title": null, "labelAngle": -45, "grid": true}}, "xOffset": {"field": "t", "type": "nominal", "scale": {"domain": ["0mM VitC", "0.345mM VitC"]}}},
         "layer": [
          {"mark": "bar", "encoding": {"y": {"field": "v", "type": "quantitative", "scale": {"domain": [-4.1, 86.1], "nice": false}, "axis": {"title": null, "values": [0, 20, 40, 60, 80]}}, "color": {"field": "t", "type": "nominal", "scale": {"domain": ["0mM VitC", "0.345mM VitC"], "range": ["#6b6b6b", "#d4703c"]}, "legend": null}}},
          {"mark": {"type": "rule", "color": "#1a1a1a", "strokeWidth": 0.8}, "encoding": {"y": {"field": "lo", "type": "quantitative"}, "y2": {"field": "hi"}}},
          {"mark": {"type": "tick", "orient": "horizontal", "size": 2.5, "thickness": 0.8, "color": "#1a1a1a"}, "encoding": {"y": {"field": "lo", "type": "quantitative"}}},
          {"mark": {"type": "tick", "orient": "horizontal", "size": 2.5, "thickness": 0.8, "color": "#1a1a1a"}, "encoding": {"y": {"field": "hi", "type": "quantitative"}}}
         ]}
      ]},
      {"spacing": 0, "bounds": "flush", "resolve": {"scale": {"color": "independent", "xOffset": "independent", "x": "independent", "y": "independent"}},
       "vconcat": [
        {"width": 61, "height": 11, "data": {"values": [{"lab": "Sca1"}]}, "mark": {"type": "text", "fontSize": 7, "color": "#1a1a1a"}, "encoding": {"text": {"field": "lab", "type": "nominal"}}, "view": {"fill": "#d9d9d9", "stroke": "#333333"}},
        {"width": 61, "height": 107, "data": {"name": "c"}, "transform": [{"filter": {"field": "p", "equal": "Sca1"}}],
         "encoding": {"x": {"field": "g", "type": "nominal", "scale": {"paddingInner": 0.3, "paddingOuter": 0.25}, "axis": {"title": null, "labelAngle": -45, "grid": true}}, "xOffset": {"field": "t", "type": "nominal", "scale": {"domain": ["0mM VitC", "0.345mM VitC"]}}},
         "layer": [
          {"mark": "bar", "encoding": {"y": {"field": "v", "type": "quantitative", "scale": {"domain": [-0.51, 10.71], "nice": false}, "axis": {"title": null, "values": [0, 2.5, 5, 7.5, 10], "format": ".1f"}}, "color": {"field": "t", "type": "nominal", "scale": {"domain": ["0mM VitC", "0.345mM VitC"], "range": ["#6b6b6b", "#d4703c"]}, "legend": {"orient": "none", "legendX": 69, "legendY": 38, "title": "Treatment", "symbolType": "square", "symbolSize": 150, "symbolStrokeWidth": 0, "rowPadding": 1, "titlePadding": 3}}}},
          {"mark": {"type": "rule", "color": "#1a1a1a", "strokeWidth": 0.8}, "encoding": {"y": {"field": "lo", "type": "quantitative"}, "y2": {"field": "hi"}}},
          {"mark": {"type": "tick", "orient": "horizontal", "size": 2.5, "thickness": 0.8, "color": "#1a1a1a"}, "encoding": {"y": {"field": "lo", "type": "quantitative"}}},
          {"mark": {"type": "tick", "orient": "horizontal", "size": 2.5, "thickness": 0.8, "color": "#1a1a1a"}, "encoding": {"y": {"field": "hi", "type": "quantitative"}}}
         ]}
      ]}
    ]
  },
  {
    "spacing": 26,
    "resolve": {"scale": {"color": "independent", "xOffset": "independent", "x": "independent", "y": "independent"}},
    "hconcat": [
      {
        "title": {"text": "d", "offset": -5},
        "width": 163, "height": 186,
        "layer": [
          {"data": {"name": "dband"}, "mark": {"type": "area", "color": "#1a1a1a", "clip": true},
           "encoding": {
             "x": {"field": "x", "type": "quantitative", "scale": {"domain": [-2.27, 4.28], "nice": false}, "axis": {"title": "log10(RPKM) Untreated", "titleFontSize": 9, "labelFontSize": 9, "titlePadding": 5, "values": [-2,-1,0,1,2,3,4], "labelExpr": "datum.value % 2 == 0 ? datum.label : ''", "tickOpacity": {"condition": {"test": "datum.value % 2 != 0", "value": 0}, "value": 1}, "gridWidth": {"condition": {"test": "datum.value % 2 != 0", "value": 0.5}, "value": 1}}},
             "y": {"field": "lo", "type": "quantitative", "scale": {"domain": [-2.3, 4.28], "nice": false}, "axis": {"title": "log10(RPKM) Vitamin C", "titleFontSize": 9, "labelFontSize": 9, "titlePadding": 6, "values": [-2,-1,0,1,2,3,4], "labelExpr": "datum.value % 2 == 0 ? datum.label : ''", "tickOpacity": {"condition": {"test": "datum.value % 2 != 0", "value": 0}, "value": 1}, "gridWidth": {"condition": {"test": "datum.value % 2 != 0", "value": 0.5}, "value": 1}}},
             "y2": {"field": "hi"}
           }},
          {"data": {"name": "dpts"}, "mark": {"type": "circle", "size": 9, "opacity": 1, "clip": true},
           "encoding": {
             "x": {"field": "x", "type": "quantitative"},
             "y": {"field": "y", "type": "quantitative"},
             "color": {"field": "s", "type": "nominal", "scale": {"domain": ["down", "unaffected", "up"], "range": ["#4a78d4", "#1a1a1a", "#d2703a"]}, "legend": {"orient": "none", "legendX": 172, "legendY": 62, "title": "status", "titleFontSize": 10, "labelFontSize": 8.5, "symbolSize": 12, "rowPadding": 2, "titlePadding": 3}}
           }},
          {"data": {"values": [{"d": -2.3}, {"d": 4.3}]}, "mark": {"type": "line", "color": "#555555", "strokeWidth": 0.8, "clip": true},
           "encoding": {"x": {"field": "d", "type": "quantitative"}, "y": {"field": "d", "type": "quantitative"}}}
        ]
      },
      {
        "title": {"text": "e", "offset": -13, "dx": 4},
        "spacing": 0,
        "vconcat": [
          {"width": 213, "height": 27, "data": {"values": []}, "mark": {"type": "text"}, "encoding": {}, "view": {"stroke": null, "fill": null}},
          {
            "width": 213, "height": 139,
            "view": {"fill": "#ebebeb", "stroke": null},
            "data": {"values": [
              {"term": "regulation of vascular endothelial growth factor production", "fe": 15.6},
              {"term": "positive regulation of inflammatory response", "fe": 8.73},
              {"term": "positive regulation of leukocyte migration", "fe": 6.86},
              {"term": "positive regulation of leukocyte chemotaxis", "fe": 6.49},
              {"term": "regulation of leukocyte chemotaxis", "fe": 6.0},
              {"term": "positive regulation of leukocyte differentiation", "fe": 5.95},
              {"term": "regulation of leukocyte migration", "fe": 5.85},
              {"term": "positive regulation of response to wounding", "fe": 5.79},
              {"term": "positive regulation of hemopoiesis", "fe": 5.31},
              {"term": "regulation of inflammatory response", "fe": 4.91}
            ]},
            "mark": {"type": "bar"},
            "encoding": {
              "y": {"field": "term", "type": "nominal", "sort": "-x", "scale": {"paddingInner": 0.1, "paddingOuter": 0.15}, "axis": {"title": null, "labelFontSize": 6.7, "labelLimit": 400, "tickSize": 2, "grid": true, "gridColor": "#ffffff"}},
              "x": {"field": "fe", "type": "quantitative", "scale": {"domain": [-0.78, 16.38], "nice": false}, "axis": {"title": "Fold enrichment", "titlePadding": 5, "gridColor": "#ffffff", "tickSize": 2, "values": [0,2.5,5,7.5,10,12.5,15], "labelExpr": "datum.value % 5 == 0 ? datum.label : ''", "tickOpacity": {"condition": {"test": "datum.value % 5 != 0", "value": 0}, "value": 1}, "gridWidth": {"condition": {"test": "datum.value % 5 != 0", "value": 0.5}, "value": 1}}},
              "color": {"field": "fe", "type": "quantitative", "scale": {"domain": [4.91, 15.6], "range": ["#e5a545", "#c05c1c"]}, "legend": null}
            }
          }
        ]
      }
    ]
  }
]
}
